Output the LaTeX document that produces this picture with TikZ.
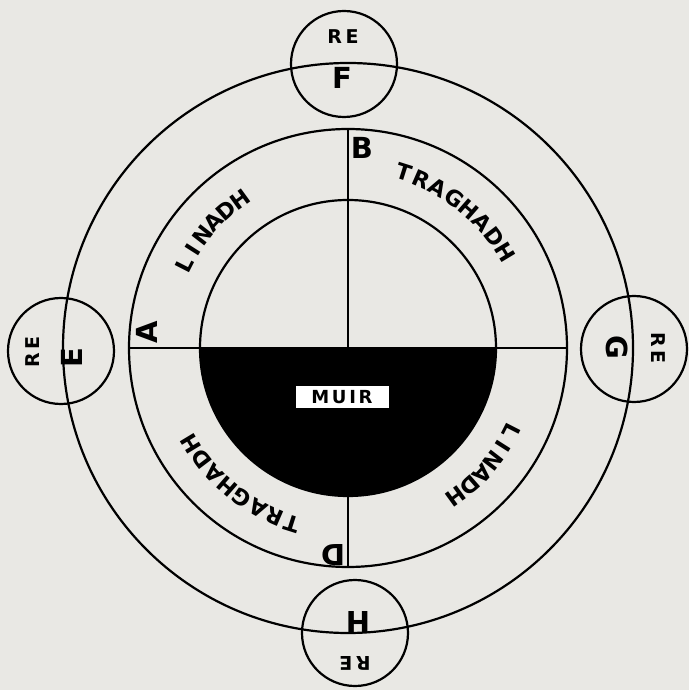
\documentclass[tikz,border=0pt]{standalone}
\usepackage{fontspec}
\setmainfont{DejaVu Sans}
\definecolor{paper}{RGB}{233,232,228}

\begin{document}
\begin{tikzpicture}[x=1pt, y=1pt,
    ring/.style={draw, line width=2.2pt},
    bigletter/.style={font=\bfseries\fontsize{29}{29}\selectfont, inner sep=0pt},
    retext/.style={font=\bfseries\fontsize{19}{19}\selectfont\addfontfeature{LetterSpace=18},
                   inner sep=0pt},
    arcletter/.style={font=\bfseries\fontsize{22}{22}\selectfont, inner sep=0pt},
    muirbox/.style={fill=white, minimum width=93pt, minimum height=22pt, inner sep=0pt,
                    font=\bfseries\fontsize{18}{18}\selectfont\addfontfeature{LetterSpace=15}},
]

    \useasboundingbox (-348,-342) rectangle (341,348);
    \fill[paper] (-348,-342) rectangle (341,348);

    % sea half
    \fill (-148,0) arc (180:360:148) -- cycle;

    % rings
    \draw[ring] (0,0) circle (285);
    \draw[ring] (0,0) circle (219);
    \draw[ring] (0,0) circle (148);
    \draw[ring] (-219,0) -- (219,0);
    \draw[ring] (0,0) -- (0,219);
    \draw[ring] (0,-148) -- (0,-219);

    % small circles
    \draw[ring] (-4,284) circle (53);
    \draw[ring] (-287,-3) circle (53);
    \draw[ring] (286,-1) circle (53);
    \draw[ring] (7,-285) circle (53);

    % letters
    \node[bigletter, rotate=90] (a) at (-201,16) {A};
    \node[bigletter] (b) at (14,200) {B};
    \node[bigletter, rotate=180] (d) at (-15,-207) {D};
    \node[bigletter, rotate=90] (e) at (-276,-10) {E};
    \node[bigletter] (f) at (-6,270) {F};
    \node[bigletter, rotate=-90] (g) at (269,1) {G};
    \node[bigletter, rotate=180] (h) at (10,-274) {H};

    \node[retext, rotate=90] (reE) at (-315,-4) {RE};
    \node[retext] (reF) at (-5,311) {RE};
    \node[retext, rotate=-90] (reG) at (310,0) {RE};
    \node[retext, rotate=180] (reH) at (7,-315) {RE};

    % words round the ring
    \foreach \ch [count=\i] in {L,I,N,A,D,H}{
        \pgfmathsetmacro{\ang}{153-5.4*(\i-1)}
        \node[arcletter, rotate=\ang-90] (linA\i) at (\ang:184) {\ch};
        \node[arcletter, rotate=\ang+90] (linB\i) at (\ang+180:184) {\ch};
    }
    \foreach \ch [count=\i] in {T,R,A,G,H,A,D,H}{
        \pgfmathsetmacro{\ang}{72.4-5.886*(\i-1)}
        \node[arcletter, rotate=\ang-90] (traA\i) at (\ang:184) {\ch};
        \node[arcletter, rotate=\ang+90] (traB\i) at (\ang+180:184) {\ch};
    }

    \node[muirbox] (muir) at (-6,-49) {MUIR};

\end{tikzpicture}
\end{document}
